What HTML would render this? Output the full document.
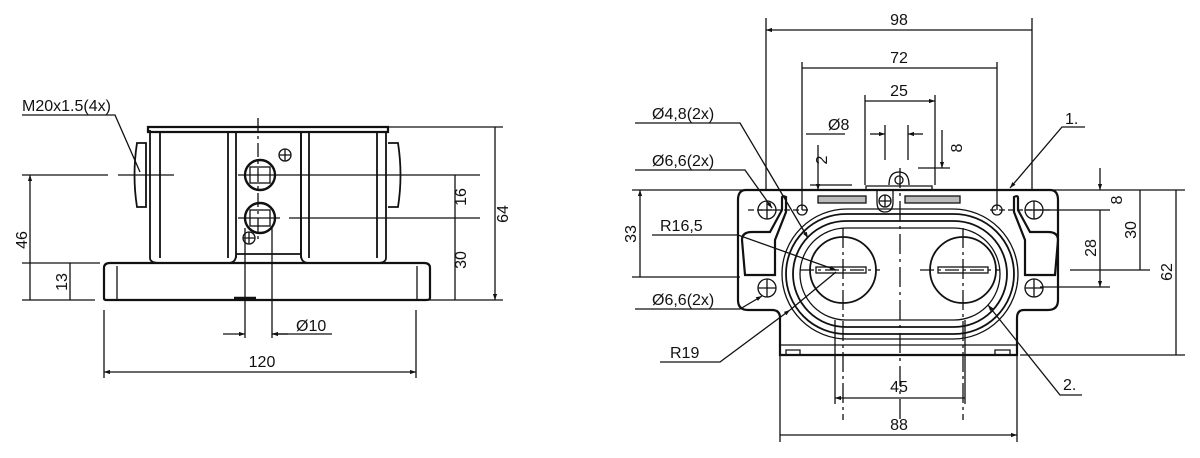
<!DOCTYPE html>
<html><head><meta charset="utf-8"><style>
html,body{margin:0;padding:0;background:#fff;width:1200px;height:458px;overflow:hidden}
svg{display:block}
text{font-family:"Liberation Sans",sans-serif;font-size:16px;fill:#111}
</style></head><body>
<svg width="1200" height="458" viewBox="0 0 1200 458" xmlns="http://www.w3.org/2000/svg">
<defs>
<marker id="a" viewBox="0 0 10 10" refX="10" refY="5" markerWidth="10" markerHeight="6" orient="auto-start-reverse" markerUnits="userSpaceOnUse"><path d="M0,1.5 L10,5 L0,8.5 z" fill="#111"/></marker>
</defs>
<g stroke="#111" fill="none" stroke-width="1.3">
<!-- LEFT VIEW -->
<path d="M148,127 H388 V132 H148 Z" stroke-width="2.2"/>
<path d="M150,130 V258 M160,132 V258 M228,132 V258 M236,132 V258" stroke-width="1.8"/>
<path d="M236,132 H301 V254 H236" stroke-width="1.8"/>
<path d="M301,132 V258 M309,132 V258 M377,132 V258 M386,132 V258" stroke-width="1.8"/>
<path d="M150,258 Q150,263 160,263 H228 Q236,263 236,255 M301,255 Q301,263 309,263 H377 Q386,263 386,258" stroke-width="1.8"/>
<path d="M104,268 Q104,263 110,263 H424 Q430,263 430,268 V298 Q430,300 426,300 H106 Q104,300 104,298 Z" stroke-width="2.2"/>
<path d="M117,266 V300 M417,266 V300"/>
<path d="M137,143 Q132,175 137,207 H146 V143 Z M388,143 H398 Q403,175 398,207 H388" stroke-width="1.8"/>
<circle cx="260" cy="175" r="15" stroke-width="2.4"/><rect x="250" y="167" width="20" height="16"/>
<circle cx="260" cy="218" r="15" stroke-width="2.4"/><rect x="250" y="210" width="20" height="16"/>
<circle cx="285" cy="155" r="6"/><path d="M279,155 H291 M285,149 V161"/>
<circle cx="249" cy="238" r="6"/><path d="M243,238 H255 M249,232 V244"/>
<path d="M258,118 V240" stroke-dasharray="14,4,3,4"/>
<path d="M234,298 H256" stroke-width="2.5"/>
<!-- left dims -->
<path d="M22,175 H108 M118,175 H174 M238,175 H480"/>
<path d="M238,218 H280 M289,218 H480"/>
<path d="M22,300 H95 M425,300 H503 M380,127 H503 M22,263 H100"/>
<path d="M30,175 V300 M70,263 V300 M455,175 V218 M455,218 V300 M495,127 V300" marker-start="url(#a)" marker-end="url(#a)"/>
<path d="M245,228 V338 M272,228 V338"/>
<path d="M272,334 H332"/>
<path d="M223,334 H245" marker-end="url(#a)"/><path d="M288,334 H272" marker-end="url(#a)"/>
<path d="M104,310 V378 M416,310 V378"/>
<path d="M104,372 H416" marker-start="url(#a)" marker-end="url(#a)"/>
<path d="M22,115 H115 L140,172"/>
<!-- RIGHT VIEW -->
<path d="M746,190 H1050 Q1058,190 1058,200 V300 Q1058,310 1048,310 H1024 Q1017,310 1017,318 V355 H780 V318 Q780,310 772,310 H748 Q738,310 738,300 V200 Q738,190 746,190 Z" stroke-width="2.2"/>
<path d="M780,345 H1017 M786,355 V350 H800 V355 M995,355 V350 H1010 V355"/>
<rect x="786" y="214" width="228" height="120" rx="60" stroke-width="1.8"/>
<rect x="793" y="221" width="214" height="106" rx="53" stroke-width="1.8"/>
<rect x="800" y="228" width="200" height="92" rx="46"/>
<rect x="782" y="209" width="236" height="130" rx="65"/>
<circle cx="843" cy="270" r="33" stroke-width="1.8"/>
<circle cx="963" cy="270" r="33" stroke-width="1.8"/>
<rect x="816" y="267" width="50" height="6"/><rect x="938" y="267" width="50" height="6"/>
<path d="M800,270 H880 M920,270 H1000" stroke-dasharray="14,4,3,4"/>
<path d="M843,228 V420 M963,228 V420" stroke-dasharray="20,4,3,4"/>
<path d="M900,168 V420" stroke-dasharray="20,5,3,5"/>
<path d="M742,240 Q742,232 752,232 H770 L782,210 V198 Q782,195 786,197 V212 L775,240 V275 H745 Z" stroke-width="2.2"/>
<path d="M1058,240 Q1058,232 1048,232 H1030 L1018,210 V198 Q1018,195 1014,197 V212 L1025,240 V275 H1055 Z" stroke-width="2.2"/>
<circle cx="767" cy="210" r="9"/><path d="M758,210 H776 M767,201 V219"/>
<circle cx="1034" cy="210" r="9"/><path d="M1025,210 H1043 M1034,201 V219"/>
<circle cx="767" cy="288" r="9"/><path d="M758,288 H776 M767,279 V297"/>
<circle cx="1034" cy="288" r="9"/><path d="M1025,288 H1043 M1034,279 V297"/>
<circle cx="802" cy="210" r="5"/><circle cx="997" cy="210" r="5"/>
<path d="M748,210 H810 M990,210 H1050" stroke-dasharray="6,3"/>
<rect x="818" y="196" width="48" height="7" fill="#bbb"/>
<rect x="905" y="196" width="55" height="7" fill="#bbb"/>
<path d="M866,190 V186 H932 V190"/>
<path d="M877,190 V202 Q877,212 885,212 Q893,212 893,202 V190"/>
<circle cx="885" cy="201" r="6"/><path d="M879,201 H891 M885,195 V207"/>
<path d="M889,185 Q889,172 899,172 Q909,172 909,185"/><circle cx="899" cy="180" r="4"/>
<!-- right dims -->
<path d="M766,18 V190 M1032,18 V190 M802,62 V210 M997,62 V210 M865,95 V185 M935,95 V185 M885,125 V160 M908,125 V160"/>
<path d="M766,30 H1032 M802,68 H997 M865,101 H935" marker-start="url(#a)" marker-end="url(#a)"/>
<path d="M870,134 H885" marker-end="url(#a)"/><path d="M923,134 H908" marker-end="url(#a)"/>
<path d="M806,134 H845"/>
<path d="M818,145 V190" marker-end="url(#a)"/><path d="M810,185 H852 M918,168 H950"/>
<path d="M942,130 V168" marker-end="url(#a)"/>
<path d="M632,190 H758 M632,277 H740 M1018,190 H1185 M1040,210 H1110 M1040,287 H1110 M1070,270 H1150 M1020,355 H1185"/>
<path d="M640,190 V277 M1176,190 V355 M1140,190 V270 M1100,210 V287" marker-start="url(#a)" marker-end="url(#a)"/>
<path d="M1100,168 V190" marker-end="url(#a)"/>
<path d="M835,320 V404 M965,320 V404 M780,355 V442 M1017,355 V442"/>
<path d="M835,398 H965 M780,435 H1017" marker-start="url(#a)" marker-end="url(#a)"/>
<!-- leaders -->
<path d="M635,123 H740 L808,238" marker-end="url(#a)"/>
<path d="M635,170 H745 L772,208" marker-end="url(#a)"/>
<path d="M652,235 H738 L836,270" marker-end="url(#a)"/>
<path d="M635,309 H740 L762,296" marker-end="url(#a)"/>
<path d="M660,362 H720 L790,310" marker-end="url(#a)"/><path d="M790,310 L836,272"/>
<path d="M1085,127 H1062 L1010,188" marker-end="url(#a)"/>
<path d="M1082,395 H1060 L988,305" marker-end="url(#a)"/>
</g>
<!-- text -->
<text x="22" y="111">M20x1.5(4x)</text>
<text transform="translate(27,240) rotate(-90)" text-anchor="middle">46</text>
<text transform="translate(67,282) rotate(-90)" text-anchor="middle">13</text>
<text transform="translate(466,197) rotate(-90)" text-anchor="middle">16</text>
<text transform="translate(466,260) rotate(-90)" text-anchor="middle">30</text>
<text transform="translate(508,214) rotate(-90)" text-anchor="middle">64</text>
<text x="296" y="331">Ø10</text>
<text x="262" y="367" text-anchor="middle">120</text>
<text x="899" y="25" text-anchor="middle">98</text>
<text x="899" y="63" text-anchor="middle">72</text>
<text x="899" y="96" text-anchor="middle">25</text>
<text x="828" y="130">Ø8</text>
<text transform="translate(827,160) rotate(-90)" text-anchor="middle">2</text>
<text transform="translate(962,148) rotate(-90)" text-anchor="middle">8</text>
<text x="652" y="119">Ø4,8(2x)</text>
<text x="652" y="166">Ø6,6(2x)</text>
<text x="660" y="231">R16,5</text>
<text x="652" y="305">Ø6,6(2x)</text>
<text x="670" y="358">R19</text>
<text x="1065" y="124">1.</text>
<text x="1063" y="390">2.</text>
<text transform="translate(636,234) rotate(-90)" text-anchor="middle">33</text>
<text transform="translate(1122,200) rotate(-90)" text-anchor="middle">8</text>
<text transform="translate(1096,248) rotate(-90)" text-anchor="middle">28</text>
<text transform="translate(1136,230) rotate(-90)" text-anchor="middle">30</text>
<text transform="translate(1172,272) rotate(-90)" text-anchor="middle">62</text>
<text x="899" y="392" text-anchor="middle">45</text>
<text x="899" y="430" text-anchor="middle">88</text>
</svg>
</body></html>
